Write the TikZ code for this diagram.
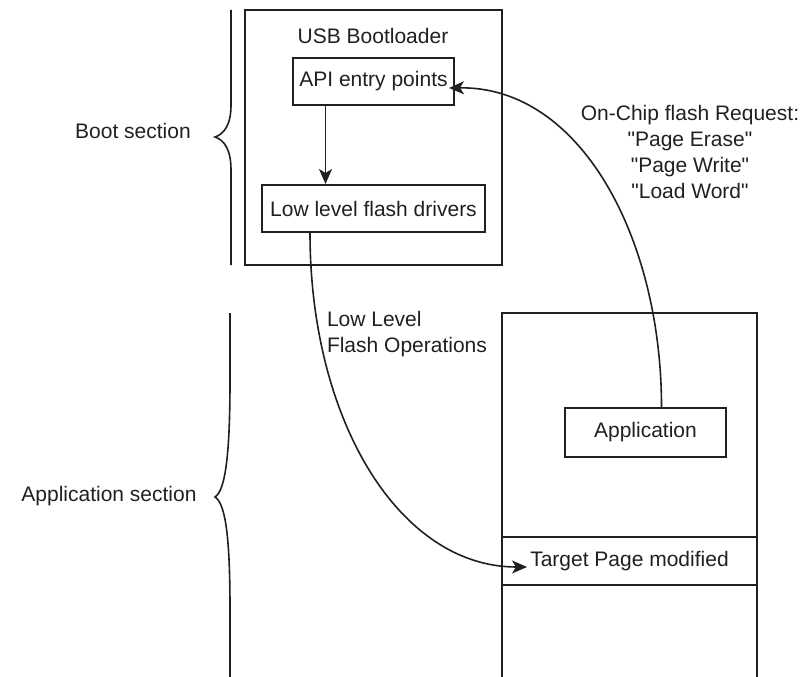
\documentclass[tikz,border=0pt]{standalone}
\usepackage{fontspec}
\setmainfont{Liberation Sans}
\usepackage{xcolor}
\usetikzlibrary{arrows.meta}
\definecolor{ink}{HTML}{231F20}

\begin{document}
\begin{tikzpicture}[x=1pt,y=1pt,line width=2pt,ink,
	box/.style={draw,rectangle,inner sep=0pt,font=\fontsize{21}{26}\selectfont},
	lbl/.style={inner sep=0pt,font=\fontsize{21}{26}\selectfont},
	arr/.style={-{Stealth[length=15pt,width=13pt,inset=4pt]}}]
	\useasboundingbox (0,0) rectangle (806,-677);
	% boot section
	\node[box,minimum width=257pt,minimum height=255pt] (boot) at (373.5,-137.5) {};
	\node[lbl] (title) at (373,-36) {USB Bootloader};
	\node[box,minimum width=161pt,minimum height=47pt] (api) at (373.5,-81.5) {API entry points};
	\node[box,minimum width=223pt,minimum height=47pt] (drv) at (373.5,-208.5) {Low level flash drivers};

	% application section
	\draw (502,-677) -- (502,-313) -- (757,-313) -- (757,-677);
	\node[box,minimum width=161pt,minimum height=49pt] (app) at (645.5,-432.5) {Application};
	\node[box,minimum width=255pt,minimum height=48pt] (page) at (629.5,-561) {Target Page modified};

	% braces
	\draw[line width=1.6pt] (231,-10) -- (231,-105) .. controls (231,-125) and (224,-134) .. (215,-137)
		.. controls (224,-140) and (231,-149) .. (231,-170) -- (231,-265);
	\draw[line width=1.6pt] (230,-313) -- (230,-380) .. controls (230,-450) and (226,-490) .. (215,-497)
		.. controls (226,-504) and (230,-540) .. (230,-610) -- (230,-677);
	\node[lbl] (bootlbl) at (133,-131) {Boot section};
	\node[lbl] (applbl) at (109,-496) {Application section};

	\node[lbl,align=center] (req) at (690,-152) {On-Chip flash Request:\\\textquotedbl Page Erase\textquotedbl\\\textquotedbl Page Write\textquotedbl\\\textquotedbl Load Word\textquotedbl};
	\node[lbl,align=left,anchor=north west] (ops) at (326,-310) {Low Level\\Flash Operations};

	\draw[arr,line width=1.6pt] ([xshift=-48pt]api.south) -- ([xshift=-48pt]drv.north);
	\draw[arr,line width=1.6pt] ([xshift=16pt]app.north) .. controls +(0,168) and +(132,2) .. ([xshift=-6pt,yshift=-6.5pt]api.east);
	\draw[arr,line width=1.6pt] ([xshift=-63.5pt]drv.south) .. controls +(0,-187) and +(-128,0) .. ([xshift=26pt,yshift=-6pt]page.west);
\end{tikzpicture}
\end{document}
